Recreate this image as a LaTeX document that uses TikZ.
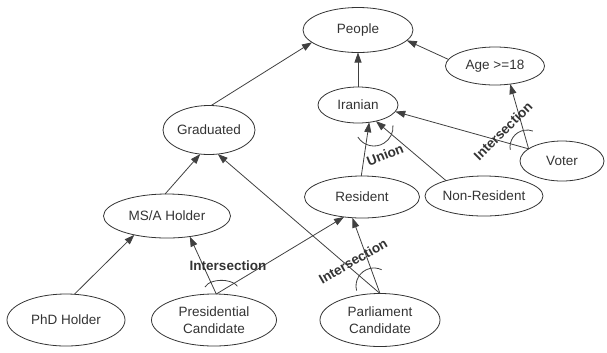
\documentclass[tikz,border=0pt]{standalone}
\usepackage{fontspec}
\setmainfont{Liberation Sans}
\usetikzlibrary{shapes.geometric,arrows.meta}

\begin{document}
\begin{tikzpicture}[x=1bp,y=1bp,
          every node/.style={font=\fontsize{13.5bp}{16.5bp}\selectfont,text=black!80},
          cls/.style={ellipse,draw=black!80,line width=0.8bp,inner sep=0pt,
            outer sep=0pt,align=center},
          isa/.style={draw=black!75,line width=0.8bp,-{Triangle[length=10bp,width=7bp]}},
          opname/.style={font=\fontsize{13.5bp}{16.5bp}\selectfont\bfseries},
          opmark/.style={draw=black!75,line width=0.8bp}]
          \useasboundingbox (0,0) rectangle (607,-352);
          \node[cls,minimum width=110bp,minimum height=45bp] (people) at (358,-30)  {People};
          \node[cls,minimum width=99bp,minimum height=38bp]  (age)    at (495,-66)  {Age >=18};
          \node[cls,minimum width=80bp,minimum height=36bp]  (iran)   at (358,-105) {Iranian};
          \node[cls,minimum width=92bp,minimum height=49bp]  (grad)   at (209,-130) {Graduated};
          \node[cls,minimum width=84bp,minimum height=40bp]  (voter)  at (562,-161) {Voter};
          \node[cls,minimum width=115bp,minimum height=42bp] (res)    at (362,-197) {Resident};
          \node[cls,minimum width=118bp,minimum height=40bp] (nonres) at (484,-196) {Non-Resident};
          \node[cls,minimum width=127bp,minimum height=44bp] (msa)    at (167,-216) {MS/A Holder};
          \node[cls,minimum width=118bp,minimum height=52bp] (phd)    at (66,-320)  {PhD Holder};
          \node[cls,minimum width=125bp,minimum height=52bp] (pres)   at (214,-320) {Presidential\\Candidate};
          \node[cls,minimum width=120bp,minimum height=53bp] (parl)   at (380,-320) {Parliament\\Candidate};
          \draw[isa] (grad.85) -- (people.195);
          \draw[isa] (iran.north) -- (people.south);
          \draw[isa] (age.172) -- (people.348);
          \draw[isa] (voter.160) -- (age.310);
          \draw[isa] (voter.160) -- (iran.350);
          \draw[isa] (res.92) -- (iran.303);
          \draw[isa] (nonres.158) -- (iran.318);
          \draw[isa] (msa.95) -- (grad.250);
          \draw[isa] (parl.north) -- (grad.290);
          \draw[isa] (phd.72) -- (msa.210);
          \draw[isa] (pres.85) -- (msa.318);
          \draw[isa] (pres.85) -- (res.228);
          \draw[isa] (parl.north) -- (res.245);
          % set operators
          \node[opname] (isect1) at (228,-266) {Intersection};
          \node[opname,rotate=30] (isect2) at (353,-261) {Intersection};
          \node[opname,rotate=45] (isect3) at (503,-131) {Intersection};
          \node[opname,rotate=22] (union) at (385,-155) {Union};
          \draw[opmark] (205,-287) arc[start angle=165,end angle=20,x radius=17bp,y radius=9bp];
          \draw[opmark] (374,-127) ++(212:19bp) arc[start angle=212,end angle=365,radius=19bp];
          \draw[opmark] (527,-147) ++(190:17bp) arc[start angle=190,end angle=70,radius=17bp];
          \draw[opmark] (374,-286) ++(195:18bp) arc[start angle=195,end angle=65,radius=18bp];
        \end{tikzpicture}
\end{document}
